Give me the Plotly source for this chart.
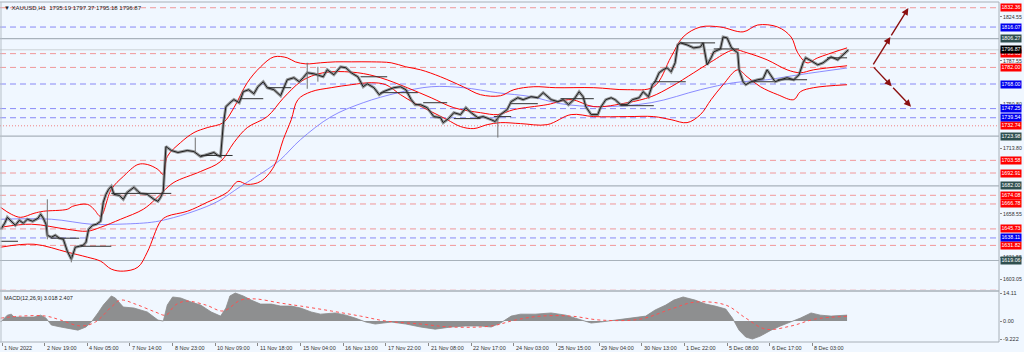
import plotly.graph_objects as go

# ---------------- data ----------------
# price path (bar index, price)
price_bar = [0,3,5,8,11,14,17,20,24,28,30,32,34,35,38,41,44,47,49,50,53,54,56,59,62,64,66,69,72,75,77,79,81,83,85,89,92,95,100,103,105,110,113,115,118,120,122,124,125,128,133,137,140,145,148,150,155,160,163,165,167,169,173,175,179,182,186,190,193,197,200,205,210,212,215,220,224,227,230,235,239,242,245,250,255,259,263,268,272,275,280,284,287,291,295,300,304,308,311,315,320,325,330,332,336,340,345,349,353,358,362,368,371,375,380,383,388,392,398,403,407,413,418,422,426,430,434,437,439,443,448,450,454,458,461,465,470,474,479,482,486,489,491,494,497,500,503,506,508,510,515,520,525,527,530,533,535,540,542,545,548,550,553,554,557,559,563,568,572,575,578,581,585,590,595,599,602,604,608,613,617,623,628,632,634,636]
price_val = [1645.4,1650.5,1655.5,1652.2,1648.8,1653.0,1650.5,1653.9,1652.2,1654.7,1658.1,1654.7,1649.7,1640.4,1638.7,1640.4,1637.9,1637.0,1631.1,1626.9,1620.2,1623.6,1630.3,1631.1,1632.0,1634.5,1645.4,1648.8,1649.7,1652.2,1668.2,1674.9,1679.1,1681.6,1674.9,1674.0,1670.7,1676.6,1680.8,1677.4,1675.7,1674.9,1672.4,1670.7,1669.0,1672.4,1677.4,1715.2,1714.4,1711.9,1710.2,1711.0,1711.9,1711.0,1708.5,1706.8,1708.5,1710.2,1707.7,1706.8,1733.7,1748.9,1753.1,1754.8,1752.2,1761.5,1763.2,1759.8,1765.7,1769.9,1764.9,1763.2,1758.1,1763.2,1771.6,1773.3,1769.9,1773.3,1777.5,1776.6,1774.9,1774.1,1780.0,1775.8,1782.5,1781.7,1777.5,1774.1,1765.7,1768.2,1764.9,1759.0,1761.5,1763.2,1764.9,1765.7,1763.2,1754.8,1750.6,1750.6,1748.0,1740.5,1739.6,1735.4,1738.8,1743.8,1742.2,1748.0,1743.8,1739.6,1740.5,1737.9,1736.3,1742.2,1746.4,1753.1,1756.4,1754.8,1757.3,1756.4,1760.7,1754.8,1753.1,1754.8,1750.6,1754.8,1761.5,1757.3,1748.9,1742.2,1742.2,1748.0,1754.8,1756.4,1754.8,1750.6,1750.6,1754.8,1756.4,1761.5,1757.3,1767.4,1769.9,1777.5,1780.0,1781.7,1778.3,1785.9,1801.0,1802.7,1801.0,1798.5,1799.3,1802.7,1784.2,1790.1,1795.1,1797.6,1807.7,1806.9,1799.3,1796.8,1794.3,1780.0,1769.9,1767.4,1769.9,1771.6,1772.4,1780.0,1774.9,1769.9,1771.6,1773.3,1771.6,1775.8,1785.9,1790.1,1787.6,1784.2,1785.9,1790.9,1788.4,1792.6,1795.1,1796.87]

# a few long wicks (bar, high, low)
wick_bar = [35, 146, 230, 238, 373, 53]
wick_high = [1670.7, 1722.8, 1785.9, 1782.5, 1742.2, 1623.6]
wick_low = [1637.0, 1711.0, 1764.0, 1770.0, 1722.8, 1617.5]

# Bollinger upper / middle / lower and slow MA
bbu_bar = [0,8,15,25,32,50,54,65,70,75,83,92,103,110,118,122,125,135,145,155,167,175,185,195,205,215,221,229,240,251,263,278,293,304,315,330,347,360,375,385,400,416,445,470,490,503,512,525,540,557,568,583,593,598,605,613,635]
bbu_val = [1663.9,1658.1,1655.5,1658.9,1660.6,1662.3,1664.8,1666.5,1662.3,1656.4,1679.1,1690.0,1700.1,1700.1,1695.9,1691.7,1706.8,1718.6,1727.0,1731.2,1735.4,1748.0,1769.1,1782.5,1790.9,1790.1,1786.7,1785.0,1785.9,1786.7,1786.7,1786.7,1785.9,1782.5,1780.0,1774.1,1765.7,1759.0,1758.1,1763.2,1765.7,1764.9,1764.9,1763.2,1765.7,1790.9,1807.7,1816.1,1816.1,1812.0,1817.8,1816.1,1807.7,1794.3,1785.9,1790.1,1798.5]
bbm_bar = [0,23,50,65,75,90,107,116,122,130,150,165,175,185,200,212,225,236,248,268,285,305,323,340,360,373,385,410,428,445,470,488,503,520,533,550,560,575,590,600,610,635]
bbm_val = [1647.1,1649.7,1645.4,1643.8,1647.1,1653.9,1662.3,1670.7,1677.4,1685.0,1694.2,1702.6,1718.6,1731.2,1740.5,1756.0,1769.9,1775.8,1778.3,1777.5,1773.3,1764.9,1756.4,1748.0,1743.8,1742.2,1746.4,1750.6,1754.8,1748.9,1752.2,1757.3,1765.7,1777.5,1786.7,1796.8,1794.3,1788.4,1780.0,1777.5,1780.0,1783.4]
bbl_bar = [0,25,50,65,75,83,92,103,110,120,125,140,155,170,178,185,195,205,212,218,223,233,248,263,278,289,300,310,323,335,345,355,365,375,390,410,428,445,470,490,503,515,525,533,542,553,560,570,583,595,600,610,635]
bbl_val = [1630.3,1632.8,1626.1,1621.9,1618.5,1611.8,1610.1,1613.5,1626.1,1652.2,1656.4,1660.6,1668.2,1676.6,1685.8,1683.3,1685.8,1698.4,1721.1,1737.9,1754.8,1761.5,1764.9,1767.4,1769.1,1767.4,1759.0,1752.2,1744.7,1737.9,1732.1,1730.4,1733.7,1735.4,1734.6,1733.7,1742.2,1740.5,1740.5,1740.5,1737.9,1735.4,1742.2,1754.8,1767.4,1780.0,1774.1,1765.7,1759.0,1754.8,1761.5,1764.9,1767.4]
ma_bar = [0,38,68,88,113,125,145,163,180,200,210,225,248,272,298,323,347,373,398,420,450,488,525,550,575,600,635]
ma_val = [1653.9,1653.9,1649.7,1649.7,1651.3,1653.9,1660.6,1669.0,1681.6,1695.9,1704.3,1721.1,1740.5,1752.2,1760.6,1765.7,1764.9,1760.6,1757.3,1751.4,1748.9,1752.2,1763.2,1769.1,1771.6,1776.0,1781.5]

# short level segments (start bar, end bar, price)
seg_start = [0,38,60,83,150,180,200,270,285,317,340,370,383,420,465,490,510,535,563,583,620]
seg_end = [13,59,83,128,174,197,218,290,313,335,360,383,403,445,490,514,536,554,580,605,635]
seg_price = [1635.3,1637.9,1631.1,1675.7,1707.7,1755.6,1764.9,1774.1,1760.7,1752.2,1738.8,1740.5,1751.4,1755.6,1749.7,1769.9,1802.7,1797.6,1769.9,1771.6,1790.1]

# horizontal levels
red_levels = [1832.36,1793.63,1782.00,1703.58,1692.91,1674.08,1666.78,1645.73,1631.82,1594.00]
red_dot_levels = [1732.74]
blue_levels = [1816.07,1768.00,1747.25,1739.54,1638.11]
gray_levels = [1806.27,1723.98,1682.00,1619.06]
last_price = 1796.87

# MACD histogram + signal
macd_bar = [0,5,8,10,25,30,34,38,45,50,58,64,68,73,77,83,86,92,100,110,118,122,125,129,135,143,150,158,165,169,172,176,182,188,195,203,210,218,225,233,240,251,259,266,274,281,293,304,315,326,338,349,360,368,375,383,390,401,413,424,435,443,450,461,473,484,491,499,505,512,521,529,536,544,549,554,559,564,570,578,585,593,600,608,615,623,630,635]
macd_val = [-0.5,3.0,3.5,2.0,2.0,3.0,1.5,-2.0,-3.0,-3.5,-4.6,-3.0,-0.5,4.1,8.1,12.7,11.7,7.1,6.6,4.6,0.5,0.0,8.1,12.2,11.7,9.6,8.1,4.6,2.5,6.6,12.7,14.2,12.7,10.6,8.6,8.6,7.6,7.6,6.6,4.6,3.5,4.1,3.0,1.5,-0.5,-1.5,-0.5,-1.5,-3.0,-4.1,-3.0,-2.5,-2.5,-3.0,-1.0,2.5,3.5,3.5,4.1,3.0,0.5,-1.0,-0.5,0.5,1.5,2.5,5.6,8.1,10.6,12.2,10.6,8.6,7.6,6.1,1.5,-4.6,-8.1,-9.1,-7.6,-4.6,-2.5,-0.5,1.5,4.1,3.0,2.5,3.0,3.018]
sig_bar = [0,15,34,45,60,71,83,90,101,116,124,131,139,154,167,180,191,210,225,248,270,289,315,338,368,386,405,428,450,480,503,521,544,559,574,593,611,635]
sig_val = [1.5,2.5,2.5,0.5,-2.5,-0.5,7.1,10.6,8.6,4.6,3.0,8.1,10.1,8.1,5.1,10.6,11.2,9.1,7.6,5.1,2.5,0.0,-1.5,-3.0,-2.5,0.5,2.5,2.5,0.5,1.0,6.1,9.6,8.1,1.5,-4.1,-2.5,1.0,2.407]

# axis labels (scale labels that are not hidden behind level boxes)
price_ticks = [1824.55,1787.55,1750.80,1713.80,1658.55,1621.55,1603.05]
macd_ticks = [14.11, 0.0, -9.222]
macd_tick_text = ["14.11", "0.00", "-9.222"]
time_ticks = [1,33,65,97,129,161,193,225,257,289,321,353,385,417,449,481,513,545,577,609]
time_text = ["1 Nov 2022","2 Nov 19:00","4 Nov 05:00","7 Nov 14:00","8 Nov 23:00","10 Nov 09:00","11 Nov 18:00","15 Nov 04:00","16 Nov 13:00","17 Nov 22:00","21 Nov 08:00","22 Nov 17:00","24 Nov 03:00","25 Nov 15:00","29 Nov 04:00","30 Nov 13:00","1 Dec 22:00","5 Dec 08:00","6 Dec 17:00","8 Dec 03:00"]

# projection arrows (bar, price)
arrow_start = (654, 1783.3)
arrow_up = (681, 1832.1)
arrow_down = (683, 1748.9)

header = "\u25bc XAUUSD,H1  1795.19 1797.37 1795.18 1796.87"
macd_title = "MACD(12,26,9) 3.018 2.407"

# ---------------- figure ----------------
BG = "#f0f7ff"
FONT = "Liberation Sans"
RED = "#ff0000"
fig = go.Figure()

shapes = []
def hline(y, color, dash, width=1):
    shapes.append(dict(type="line", xref="x domain", yref="y", x0=0, x1=1, y0=y, y1=y,
                       line=dict(color=color, width=width, dash=dash), layer="below"))
for v in gray_levels:
    hline(v, "rgba(150,160,170,0.8)", "solid", 1.2)
for v in red_levels:
    hline(v, "rgba(240,120,120,0.75)", "6px,4px")
for v in red_dot_levels:
    hline(v, "rgba(240,100,100,0.8)", "1px,2px")
for v in blue_levels:
    hline(v, "rgba(110,110,245,0.8)", "6px,4px")
hline(last_price, "rgba(200,205,210,0.9)", "solid", 1)

for s, e, p in zip(seg_start, seg_end, seg_price):
    shapes.append(dict(type="line", xref="x", yref="y", x0=s, x1=e, y0=p, y1=p,
                       line=dict(color="#303030", width=1)))
for b, h, l in zip(wick_bar, wick_high, wick_low):
    shapes.append(dict(type="line", xref="x", yref="y", x0=b, x1=b, y0=l, y1=h,
                       line=dict(color="#707070", width=1)))

fig.add_trace(go.Scatter(x=ma_bar, y=ma_val, mode="lines", line=dict(color="rgba(120,120,255,0.85)", width=1, shape="spline"), xaxis="x", yaxis="y"))
fig.add_trace(go.Scatter(x=bbu_bar, y=bbu_val, mode="lines", line=dict(color=RED, width=1, shape="spline"), xaxis="x", yaxis="y"))
fig.add_trace(go.Scatter(x=bbm_bar, y=bbm_val, mode="lines", line=dict(color=RED, width=1, shape="spline"), xaxis="x", yaxis="y"))
fig.add_trace(go.Scatter(x=bbl_bar, y=bbl_val, mode="lines", line=dict(color=RED, width=1, shape="spline"), xaxis="x", yaxis="y"))
# candle-like texture: gray body underlay plus dark outline line
fig.add_trace(go.Scatter(x=price_bar, y=price_val, mode="lines", line=dict(color="rgba(120,120,120,0.75)", width=3), xaxis="x", yaxis="y"))
fig.add_trace(go.Scatter(x=price_bar, y=price_val, mode="lines", line=dict(color="#1e1e1e", width=1), xaxis="x", yaxis="y"))

fig.add_trace(go.Scatter(x=macd_bar, y=macd_val, mode="lines", fill="tozeroy",
                         fillcolor="rgba(125,125,125,0.85)", line=dict(color="#8a8a8a", width=0.8),
                         xaxis="x2", yaxis="y2"))
fig.add_trace(go.Scatter(x=sig_bar, y=sig_val, mode="lines", line=dict(color="#ff5050", width=1, dash="dot", shape="spline"),
                         xaxis="x2", yaxis="y2"))

shapes.append(dict(type="line", xref="paper", yref="paper", x0=0, x1=1, y0=1, y1=1, line=dict(color="#a8b0b8", width=1)))
shapes.append(dict(type="line", xref="paper", yref="paper", x0=0, x1=1, y0=0.150, y1=0.150, line=dict(color="#a8b0b8", width=1.5)))
shapes.append(dict(type="line", xref="paper", yref="paper", x0=0, x1=1, y0=0, y1=0, line=dict(color="#a8b0b8", width=1)))
shapes.append(dict(type="line", xref="paper", yref="paper", x0=1, x1=1, y0=0, y1=1, line=dict(color="#a8b0b8", width=1)))
shapes.append(dict(type="line", xref="paper", yref="paper", x0=0.001, x1=0.001, y0=0, y1=1, line=dict(color="#b8c0c8", width=1)))

annotations = []
def box(v, color):
    annotations.append(dict(xref="paper", yref="y", x=1, y=v, xanchor="left", yanchor="middle", xshift=1,
                            text="%.2f" % v, showarrow=False, bgcolor=color, borderpad=0.4,
                            font=dict(family=FONT, size=5.3, color="white")))
for v in red_levels + red_dot_levels:
    box(v, RED)
for v in blue_levels:
    box(v, "#0000ee")
for v in gray_levels:
    box(v, "#2f4f4f")
box(last_price, "#000000")

for t, s in zip(time_ticks, time_text):
    annotations.append(dict(xref="x2", yref="paper", x=t, y=0, xanchor="left", yanchor="top", yshift=-1, xshift=0,
                            text=s, showarrow=False, font=dict(family=FONT, size=5.5, color="#333333")))

annotations.append(dict(xref="paper", yref="paper", x=0, y=1, xanchor="left", yanchor="top", xshift=2, yshift=-1,
                        text=header, showarrow=False, font=dict(family=FONT, size=6, color="#222222")))
annotations.append(dict(xref="paper", yref="paper", x=0, y=0.147, xanchor="left", yanchor="top", xshift=2, yshift=-1,
                        text=macd_title, showarrow=False, font=dict(family=FONT, size=5.5, color="#222222")))

ARC = "#8b1010"
sx, sy = arrow_start
for ex, ey in (arrow_up, arrow_down):
    mx, my = (sx + ex) / 2, (sy + ey) / 2
    for (ax_, ay_, x_, y_) in ((sx, sy, mx, my), (mx, my, ex, ey)):
        annotations.append(dict(xref="x", yref="y", axref="x", ayref="y", x=x_, y=y_, ax=ax_, ay=ay_,
                                showarrow=True, arrowhead=2, arrowsize=1, arrowwidth=1.4, arrowcolor=ARC, text=""))

fig.update_layout(
    width=1024, height=352,
    margin=dict(l=0, r=25, t=2, b=10),
    paper_bgcolor=BG, plot_bgcolor=BG,
    showlegend=False, hovermode=False,
    shapes=shapes, annotations=annotations,
    xaxis=dict(domain=[0, 1], range=[-0.5, 749], showgrid=False, zeroline=False, showticklabels=False,
               anchor="y", matches="x2"),
    yaxis=dict(domain=[0.153, 1], range=[1594.2, 1837.2], side="right", showgrid=False, zeroline=False,
               tickvals=price_ticks, ticktext=["%.2f" % v for v in price_ticks], ticks="outside", ticklen=2,
               tickcolor="#888888", tickfont=dict(family=FONT, size=5.2, color="#333333"), anchor="x"),
    xaxis2=dict(domain=[0, 1], range=[-0.5, 749], showgrid=False, zeroline=False, showticklabels=False,
                tickvals=time_ticks, ticks="outside", ticklen=3, tickcolor="#888888", anchor="y2"),
    yaxis2=dict(domain=[0, 0.147], range=[-10.6, 14.7], side="right", showgrid=False, zeroline=False,
                tickvals=macd_ticks, ticktext=macd_tick_text, ticks="outside", ticklen=2, tickcolor="#888888",
                tickfont=dict(family=FONT, size=5.5, color="#333333"), anchor="x2"),
)

fig.write_html("out.html")
